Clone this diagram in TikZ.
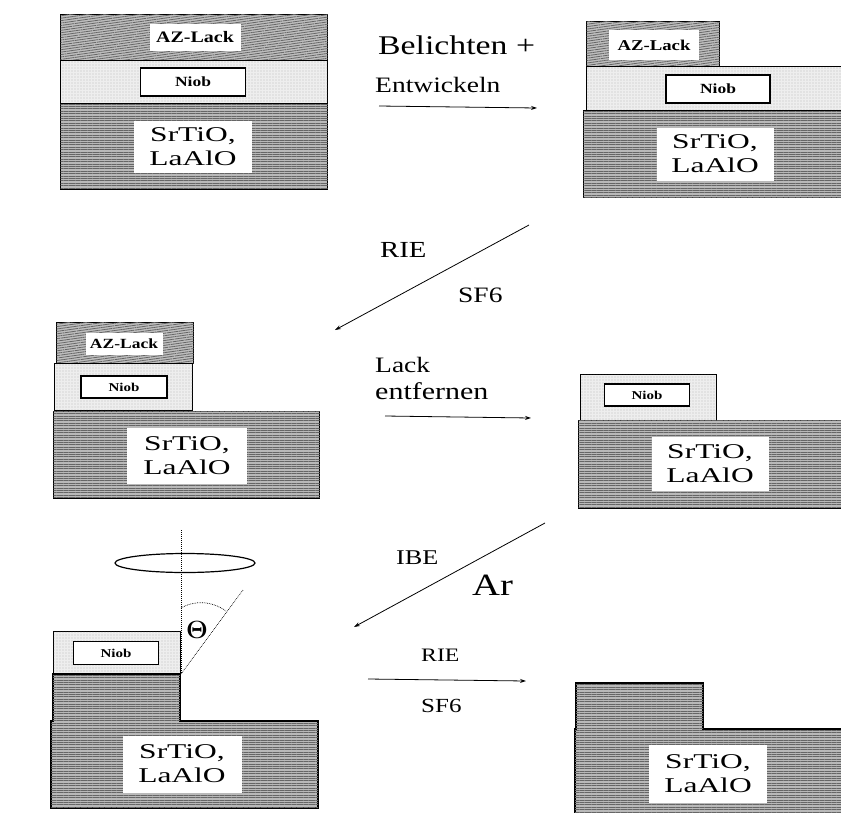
\documentclass[tikz,border=0pt]{standalone}
\usepackage{xcolor}
\usepackage{fontspec}
\setmainfont{Liberation Serif}
\newfontfamily\stepfont[FakeStretch=1.25]{Liberation Serif}
\newfontfamily\subsfont[FakeStretch=1.5]{Liberation Serif}
\usetikzlibrary{arrows.meta,shapes.geometric,patterns.meta}
\definecolor{lackgray}{RGB}{190,190,190}
\definecolor{niobgray}{RGB}{238,238,238}
\definecolor{subsgray}{RGB}{185,185,185}
\tikzset{
    lacklayer/.style={draw, rectangle, fill=lackgray, anchor=north west, line width=1.2pt, inner sep=0pt,
        postaction={pattern={Lines[angle=8,distance=2.4pt,line width=0.8pt]}, pattern color=black!60}},
    nioblayer/.style={draw, rectangle, fill=niobgray, anchor=north west, line width=1.2pt, inner sep=0pt,
        postaction={pattern={Dots[radius=0.4pt,distance=3pt]}, pattern color=black!60}},
    subslayer/.style={draw, fill=subsgray, line width=1.2pt,
        postaction={pattern={Lines[distance=2.4pt,line width=0.9pt]}, pattern color=black!60}},
    azbox/.style={rectangle, fill=white, inner sep=0pt},
    niobbox/.style={draw, rectangle, fill=white, line width=1.2pt, inner sep=0pt},
    subsbox/.style={rectangle, fill=white, inner sep=0pt, align=center, font=\fontsize{21}{24}\selectfont\subsfont},
    steplabel/.style={inner sep=0pt, anchor=west},
    procarrow/.style={-{Stealth[length=6pt,width=4pt]}, line width=0.8pt},
    beamline/.style={densely dotted, line width=1pt}
}
\newcommand{\azfont}[1]{\fontsize{#1}{#1}\selectfont\stepfont\bfseries}
\newcommand{\stepsize}[1]{\fontsize{#1}{#1}\selectfont\stepfont}
\begin{document}
\begin{tikzpicture}[x=1pt,y=-1pt]
    \useasboundingbox (0,0) rectangle (841,812);

    % Top left
    \node[lacklayer, minimum width=267pt, minimum height=46pt] (lackA) at (60,14) {};
    \node[nioblayer, minimum width=267pt, minimum height=43pt] (niobA) at (60,60) {};
    \node[subslayer, rectangle, anchor=north west, inner sep=0pt, minimum width=267pt, minimum height=86pt] (subsA) at (60,103) {};
    \node[azbox, minimum width=91pt, minimum height=27pt, font=\azfont{16}] (azlabelA) at (195,37) {AZ-Lack};
    \node[niobbox, minimum width=105pt, minimum height=28pt, font=\azfont{14}] (nioblabelA) at (193,82) {Niob};
    \node[subsbox, minimum width=118pt, minimum height=52pt] (subslabelA) at (193,147) {SrTiO,\\LaAlO};

    % Top right
    \node[lacklayer, minimum width=133pt, minimum height=45pt] (lackB) at (586,21) {};
    \node[nioblayer, minimum width=256pt, minimum height=44pt] (niobB) at (586,66) {};
    \node[subslayer, rectangle, anchor=north west, inner sep=0pt, minimum width=259pt, minimum height=87pt] (subsB) at (583,110) {};
    \node[azbox, minimum width=90pt, minimum height=30pt, font=\azfont{15}] (azlabelB) at (654,45) {AZ-Lack};
    \node[niobbox, minimum width=104pt, minimum height=28pt, font=\azfont{14}] (nioblabelB) at (718,89) {Niob};
    \node[subsbox, minimum width=117pt, minimum height=53pt] (subslabelB) at (715,154) {SrTiO,\\LaAlO};

    % Middle left
    \node[lacklayer, minimum width=137pt, minimum height=41pt] (lackC) at (56,322) {};
    \node[nioblayer, minimum width=138pt, minimum height=47pt] (niobC) at (54,363) {};
    \node[subslayer, rectangle, anchor=north west, inner sep=0pt, minimum width=266pt, minimum height=87pt] (subsC) at (53,411) {};
    \node[azbox, minimum width=77pt, minimum height=22pt, font=\azfont{14}] (azlabelC) at (124,344) {AZ-Lack};
    \node[niobbox, minimum width=86pt, minimum height=22pt, font=\azfont{12}] (nioblabelC) at (124,387) {Niob};
    \node[subsbox, minimum width=120pt, minimum height=56pt] (subslabelC) at (187,456) {SrTiO,\\LaAlO};

    % Middle right
    \node[nioblayer, minimum width=136pt, minimum height=46pt] (niobD) at (580,374) {};
    \node[subslayer, rectangle, anchor=north west, inner sep=0pt, minimum width=264pt, minimum height=88pt] (subsD) at (578,420) {};
    \node[niobbox, minimum width=85pt, minimum height=22pt, font=\azfont{12}] (nioblabelD) at (647,395) {Niob};
    \node[subsbox, minimum width=117pt, minimum height=54pt] (subslabelD) at (710,464) {SrTiO,\\LaAlO};

    % Bottom left
    \node[nioblayer, minimum width=127pt, minimum height=43pt] (niobE) at (53,631) {};
    \draw[subslayer] (53,674) -- (180,674) -- (180,721) -- (318,721) -- (318,808) -- (51,808) -- (51,721) -- (53,721) -- cycle;
    \node[niobbox, minimum width=85pt, minimum height=23pt, font=\azfont{12}] (nioblabelE) at (116,653) {Niob};
    \node[subsbox, minimum width=119pt, minimum height=57pt] (subslabelE) at (182,764) {SrTiO,\\LaAlO};

    % Beam and angle
    \node[draw, ellipse, line width=1.2pt, minimum width=140pt, minimum height=19pt, inner sep=0pt] (beam) at (185,563) {};
    \coordinate (beamtop) at (181,530);
    \coordinate (beamfoot) at (181,674);
    \coordinate (tiltend) at (243,590);
    \coordinate (arcstart) at (181,608);
    \coordinate (arcend) at (226,611);
    \draw[beamline] (beamtop) -- (beamfoot);
    \draw[beamline, line width=0.7pt] (beamfoot) -- (tiltend);
    \draw[beamline, line width=0.7pt] (arcstart) .. controls (195,600) and (212,601) .. (arcend);
    \node[inner sep=0pt, font=\fontsize{24}{24}\selectfont\boldmath] (thetamark) at (197,630) {$\Theta$};

    % Bottom right
    \draw[subslayer] (576,683) -- (703,683) -- (703,729) -- (845,729) -- (845,820) -- (575,820) -- (575,729) -- (576,729) -- cycle;
    \node[subsbox, minimum width=118pt, minimum height=58pt] (subslabelF) at (708,774) {SrTiO,\\LaAlO};

    % Step labels
    \node[steplabel, font=\stepsize{27}] (belichten) at (378,45) {Belichten +};
    \node[steplabel, font=\stepsize{22}] (entwickeln) at (375,85) {Entwickeln};
    \node[steplabel, font=\stepsize{23}] (rieA) at (380,250) {RIE};
    \node[steplabel, font=\stepsize{22}] (sfA) at (458,295) {SF6};
    \node[steplabel, font=\stepsize{22}] (lackweg) at (375,365) {Lack};
    \node[steplabel, font=\stepsize{24}] (entfernen) at (375,391) {entfernen};
    \node[steplabel, font=\stepsize{21}] (ibe) at (396,558) {IBE};
    \node[steplabel, font=\stepsize{31}] (argon) at (472,585) {Ar};
    \node[steplabel, font=\stepsize{19}] (rieB) at (421,655) {RIE};
    \node[steplabel, font=\stepsize{20}] (sfB) at (421,706) {SF6};

    % Arrows
    \coordinate (arrowAs) at (379,106);
    \coordinate (arrowAe) at (537,108);
    \coordinate (arrowBs) at (529,225);
    \coordinate (arrowBe) at (335,330);
    \coordinate (arrowCs) at (385,416);
    \coordinate (arrowCe) at (531,418);
    \coordinate (arrowDs) at (545,523);
    \coordinate (arrowDe) at (354,627);
    \coordinate (arrowEs) at (368,679);
    \coordinate (arrowEe) at (526,681);
    \draw[procarrow] (arrowAs) -- (arrowAe);
    \draw[procarrow] (arrowBs) -- (arrowBe);
    \draw[procarrow] (arrowCs) -- (arrowCe);
    \draw[procarrow] (arrowDs) -- (arrowDe);
    \draw[procarrow] (arrowEs) -- (arrowEe);
\end{tikzpicture}
\end{document}
